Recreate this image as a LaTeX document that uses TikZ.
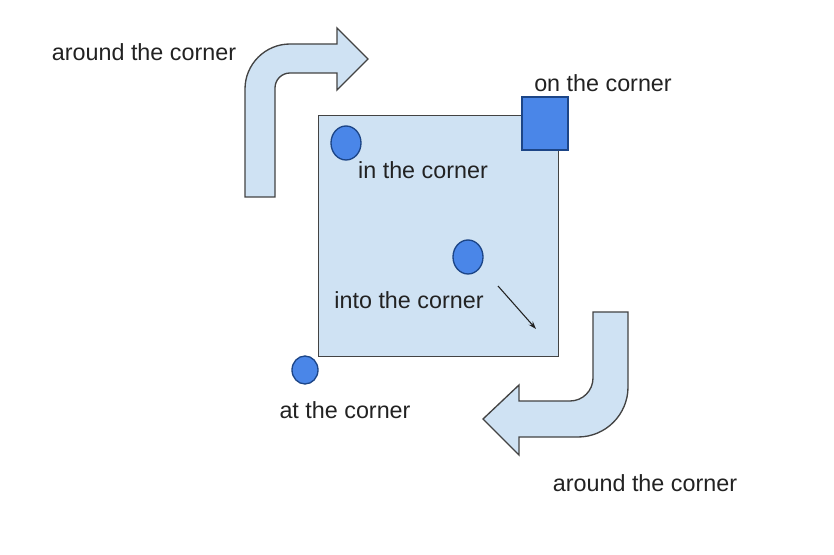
\documentclass[tikz,border=0pt]{standalone}
\usepackage{fontspec}
\setmainfont{Liberation Sans}
\usetikzlibrary{arrows.meta}
\definecolor{lightfill}{HTML}{CFE2F3}
\definecolor{edge}{HTML}{434343}
\definecolor{dotblue}{HTML}{4A86E8}
\definecolor{dotedge}{HTML}{1C4587}
\definecolor{txt}{HTML}{222222}
\tikzset{
  shapefill/.style={fill=lightfill,draw=edge,line width=1pt},
  dot/.style={ellipse,fill=dotblue,draw=dotedge,line width=1pt,inner sep=0pt},
  lbl/.style={text=txt,font=\fontsize{17.5pt}{20pt}\selectfont,inner sep=0pt},
}
\usetikzlibrary{shapes.geometric}
\begin{document}
\begin{tikzpicture}[x=0.75pt,y=-0.75pt]
\useasboundingbox (0,0) rectangle (834,555);
\fill[white] (0,0) rectangle (834,555);
% top-left curved arrow
\path[shapefill] (245,197) -- (245,89) .. controls (245,64.2) and (265.2,44) .. (290,44)
  -- (337,44) -- (337,28) -- (368,59) -- (337,90) -- (337,73) -- (290,73)
  .. controls (281.7,73) and (275,79.7) .. (275,88) -- (275,197) -- cycle;
% bottom-right curved arrow
\path[shapefill] (593,312) -- (628,312) -- (628,387) .. controls (628,414.6) and (605.6,437) .. (578,437)
  -- (519,437) -- (519,455) -- (483,419) -- (519,385) -- (519,401) -- (570,401)
  .. controls (582.7,401) and (593,390.7) .. (593,378) -- cycle;
% main square
\node[shapefill,rectangle,minimum width=240*0.75pt,minimum height=241*0.75pt,anchor=north west,inner sep=0pt] (sq) at (318,115) {};
% on the corner square
\node[rectangle,fill=dotblue,draw=dotedge,line width=1pt,minimum width=46*0.75pt,minimum height=53*0.75pt,inner sep=0pt] (oc) at (545,123.5) {};
% dots
\node[dot,minimum width=30*0.75pt,minimum height=34*0.75pt] (d1) at (346,143) {};
\node[dot,minimum width=30*0.75pt,minimum height=34*0.75pt] (d2) at (468,257) {};
\node[dot,minimum width=26*0.75pt,minimum height=28*0.75pt] (d3) at (305,370) {};
% into arrow
\coordinate (ia) at (498,286);
\coordinate (ib) at (536,329);
\draw[-{Stealth[length=6pt,width=4pt]},line width=0.8pt,txt] (ia) -- (ib);
% labels
\node[lbl] (t1) at (144,52) {around the corner};
\node[lbl] (t2) at (603,83) {on the corner};
\node[lbl] (t3) at (423,170) {in the corner};
\node[lbl] (t4) at (409,300) {into the corner};
\node[lbl] (t5) at (345,410) {at the corner};
\node[lbl] (t6) at (645,483) {around the corner};
\end{tikzpicture}
\end{document}
